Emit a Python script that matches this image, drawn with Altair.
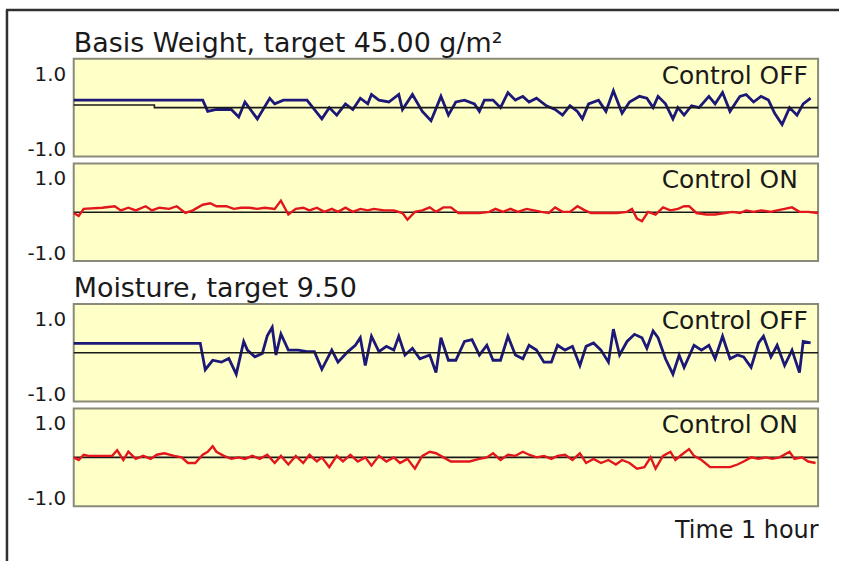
import altair as alt
import pandas as pd

# ---------------- data: time in minutes, deviation from target ----------------
bw_off_t = [0, 10.4, 10.8, 11.5, 12.7, 13.3, 13.8, 14.8, 15.8, 16.2,
            16.9, 18.8, 20.0, 20.6, 21.2, 21.9, 22.5, 23.1, 23.7, 24.0,
            24.6, 25.4, 26.2, 26.5, 27.3, 28.1, 28.8, 29.6, 30.2, 30.8,
            31.5, 32.3, 32.7, 33.1, 33.8, 34.4, 35.0, 35.6, 36.2, 36.7,
            37.3, 38.1, 38.8, 39.4, 40.0, 40.6, 41.0, 41.5, 42.3, 42.9,
            43.5, 44.2, 44.8, 45.6, 46.2, 46.7, 47.1, 47.7, 48.3, 48.7,
            49.2, 49.8, 50.4, 51.2, 51.7, 52.3, 52.9, 53.7, 54.2, 54.8,
            55.4, 56.0, 56.5, 57.1, 57.7, 58.3, 58.8, 59.4]
bw_off_v = [0.2, 0.2, -0.1, -0.05, -0.05, -0.25, 0.15, -0.3, 0.25, 0.1,
            0.2, 0.2, -0.3, 0.0, -0.2, 0.1, -0.05, 0.25, 0.1, 0.35,
            0.2, 0.15, 0.35, -0.05, 0.35, -0.1, -0.35, 0.3, -0.2, 0.15,
            0.2, 0.1, -0.1, 0.2, 0.2, 0.0, 0.4, 0.2, 0.3, 0.15,
            0.25, 0.05, -0.05, -0.2, 0.05, -0.1, -0.3, 0.1, 0.2, -0.1,
            0.45, -0.15, 0.15, 0.3, 0.25, 0.0, 0.3, 0.1, -0.3, 0.0,
            -0.2, 0.05, 0.0, 0.3, 0.1, 0.4, -0.1, 0.3, 0.35, 0.15,
            0.3, 0.2, -0.15, -0.45, 0.0, -0.2, 0.1, 0.25]

bw_on_t = [0, 0.4, 0.8, 2.3, 3.3, 3.8, 4.4, 5.0, 5.8, 6.3,
           6.9, 7.7, 8.3, 9.0, 9.6, 10.4, 11.0, 11.5, 12.3, 12.9,
           13.5, 14.2, 14.8, 15.4, 16.2, 16.7, 17.3, 17.9, 18.5, 19.0,
           19.6, 20.2, 20.8, 21.3, 21.9, 22.5, 23.1, 23.7, 24.2, 25.0,
           25.8, 26.5, 26.9, 27.5, 28.1, 28.7, 29.2, 29.8, 30.4, 31.0,
           31.9, 32.7, 33.5, 34.0, 34.6, 35.2, 35.8, 36.5, 37.1, 37.7,
           38.3, 38.8, 39.4, 40.0, 40.6, 41.2, 41.7, 42.7, 43.8, 44.6,
           45.0, 45.4, 45.8, 46.3, 46.9, 47.5, 48.1, 48.7, 49.2, 49.6,
           50.2, 51.0, 51.7, 52.5, 53.1, 53.7, 54.2, 54.8, 55.4, 56.2,
           56.7, 57.3, 57.9, 58.5, 59.2, 60.0]
bw_on_v = [-0.02, -0.1, 0.09, 0.12, 0.16, 0.05, 0.12, 0.05, 0.16, 0.05,
           0.12, 0.09, 0.16, -0.02, 0.05, 0.2, 0.24, 0.16, 0.16, 0.09,
           0.12, 0.12, 0.09, 0.12, 0.09, 0.31, -0.06, 0.09, 0.12, 0.05,
           0.12, 0.01, 0.09, 0.01, 0.12, 0.01, 0.09, 0.05, 0.09, 0.05,
           0.05, -0.02, -0.2, 0.01, 0.05, 0.13, 0.01, 0.13, 0.13, -0.02,
           -0.02, -0.02, 0.01, 0.09, 0.01, 0.09, 0.01, 0.09, 0.05, 0.01,
           -0.02, 0.13, 0.01, 0.01, 0.16, 0.05, -0.02, -0.02, -0.02, 0.01,
           0.09, -0.17, -0.24, 0.01, -0.06, 0.13, 0.05, 0.09, 0.16, 0.16,
           -0.02, -0.06, -0.06, -0.02, 0.01, -0.02, 0.05, 0.01, 0.05, 0.01,
           0.05, 0.09, 0.13, 0.01, 0.01, -0.02]

mo_off_t = [0, 10.2, 10.6, 11.2, 11.9, 12.5, 13.1, 13.7, 14.0, 14.6,
            15.2, 15.6, 16.0, 16.3, 16.7, 17.3, 18.1, 18.8, 19.4, 20.0,
            20.8, 21.3, 22.1, 22.7, 23.1, 23.5, 24.0, 24.6, 25.2, 25.8,
            26.2, 26.7, 27.3, 27.9, 28.7, 29.2, 29.6, 30.2, 30.8, 31.5,
            32.1, 32.7, 33.3, 33.8, 34.4, 35.0, 35.6, 36.2, 36.7, 37.3,
            37.9, 38.5, 39.0, 39.6, 40.2, 40.8, 41.3, 41.9, 42.5, 43.1,
            43.5, 44.0, 44.6, 45.2, 45.8, 46.2, 46.7, 47.1, 47.7, 48.3,
            48.8, 49.2, 50.0, 50.6, 51.2, 51.7, 52.3, 52.9, 53.5, 54.0,
            54.6, 55.2, 55.6, 56.2, 56.7, 57.3, 57.9, 58.5, 58.8, 59.4]
mo_off_v = [0.25, 0.25, -0.45, -0.2, -0.25, -0.15, -0.57, 0.3, 0.07, -0.11,
            -0.02, 0.45, 0.68, -0.06, 0.5, 0.07, 0.07, 0.03, 0.03, -0.44,
            0.07, -0.25, 0.03, 0.2, 0.4, -0.34, 0.44, 0.03, 0.17, 0.07,
            0.44, -0.06, 0.12, -0.16, -0.06, -0.53, 0.4, -0.2, -0.2, 0.3,
            0.35, -0.06, 0.2, -0.2, -0.2, 0.44, -0.06, -0.16, 0.2, 0.07,
            -0.25, -0.25, 0.2, 0.07, 0.17, -0.34, 0.17, 0.26, 0.07, -0.25,
            0.63, -0.06, 0.3, 0.49, 0.4, 0.12, 0.58, 0.4, -0.16, -0.57,
            -0.06, -0.39, 0.2, 0.07, 0.2, -0.16, 0.44, -0.16, -0.06, -0.11,
            -0.39, 0.26, 0.44, -0.11, 0.2, -0.34, 0.07, -0.53, 0.3, 0.26]

mo_on_t = [0.0, 0.4, 0.8, 1.2, 3.1, 3.5, 4.0, 4.4, 5.0, 5.6,
           6.2, 6.7, 7.3, 8.1, 8.7, 9.2, 9.8, 10.4, 10.8, 11.2,
           11.5, 12.1, 12.7, 13.3, 13.8, 14.4, 15.0, 15.6, 16.2, 16.7,
           17.3, 17.9, 18.5, 19.0, 19.6, 20.0, 20.6, 21.2, 21.7, 22.3,
           22.9, 23.5, 24.0, 24.6, 25.2, 25.8, 26.3, 26.9, 27.5, 28.1,
           28.7, 29.2, 29.8, 30.4, 31.2, 31.9, 32.7, 33.3, 33.8, 34.4,
           35.0, 35.6, 36.2, 36.7, 37.3, 37.9, 38.5, 39.0, 39.6, 40.2,
           40.8, 41.3, 41.9, 42.5, 43.1, 43.7, 44.2, 44.8, 45.4, 46.0,
           46.5, 46.9, 47.5, 48.1, 48.5, 49.0, 49.6, 50.0, 50.6, 51.3,
           52.1, 52.9, 53.5, 54.0, 54.6, 55.2, 55.8, 56.3, 56.9, 57.7,
           58.1, 58.7, 59.2, 59.8]
mo_on_v = [0.0, -0.07, 0.07, 0.04, 0.04, 0.19, -0.07, 0.15, -0.04, 0.04,
           -0.04, 0.07, 0.11, 0.04, 0.0, -0.15, -0.15, 0.07, 0.15, 0.3,
           0.15, 0.04, -0.04, 0.0, -0.04, 0.04, -0.04, 0.07, -0.15, 0.04,
           -0.19, 0.04, -0.15, 0.07, -0.11, 0.0, -0.26, 0.04, -0.11, 0.07,
           -0.11, 0.0, -0.22, 0.04, -0.11, 0.0, -0.15, -0.04, -0.3, 0.04,
           0.15, 0.11, 0.0, -0.11, -0.11, -0.11, -0.04, 0.0, 0.11, -0.07,
           0.07, 0.04, 0.15, 0.07, 0.0, 0.04, -0.04, 0.04, 0.07, -0.07,
           0.11, -0.15, -0.04, -0.15, -0.07, -0.19, -0.07, -0.15, -0.3, -0.26,
           0.0, -0.3, 0.04, 0.15, -0.07, 0.07, 0.22, 0.04, -0.07, -0.26,
           -0.26, -0.26, -0.19, -0.11, 0.0, -0.04, 0.0, -0.04, 0.0, 0.15,
           -0.04, 0.0, -0.11, -0.15]

bw_target_t = [0, 6.5, 6.5, 60]
bw_target_v = [0.07, 0.07, 0.0, 0.0]
target_t = [0, 60]
target_v = [0.0, 0.0]

y_ticks = [-1.0, 1.0]
titles = ["Basis Weight, target 45.00 g/m\u00b2", "Moisture, target 9.50"]
mode_labels = ["Control OFF", "Control ON"]
x_title = "Time 1 hour"

# ---------------- styling ----------------
W, H = 747, 98
SPACER_H = 29
FONT = "DejaVu Sans"
BLUE = "#1c1878"
RED = "#e3161c"
INK = "#1a1a1a"
PANEL = alt.ViewBackground(fill="#ffffc8", stroke="#8a8a78", strokeWidth=2)

x_scale = alt.Scale(domain=[0, 60], nice=False, zero=False)
y_scale = alt.Scale(domain=[-1.3, 1.3], nice=False, zero=False)
y_axis = alt.Axis(values=y_ticks, title=None, ticks=False, domain=False, grid=False,
                  labelExpr="datum.value < 0 ? '-' + format(abs(datum.value), '.1f') : format(datum.value, '.1f')",
                  labelFontSize=20, labelFont=FONT, labelColor=INK, labelPadding=8,
                  labelOffset=4)


def frame(df_t, df_v):
    n = min(len(df_t), len(df_v))
    return pd.DataFrame({"t": df_t[:n], "v": df_v[:n]})


def panel(t, v, tt, tv, color, sw, label, title=None, last=False, off=True):
    if last:
        x_axis = alt.Axis(labels=False, ticks=False, domain=False, grid=False, title=x_title,
                          titleAnchor="end", titleFontSize=24, titleFont=FONT,
                          titleFontWeight="normal", titleColor=INK, titleBaseline="alphabetic",
                          titlePadding=31)
    else:
        x_axis = None
    x = alt.X("t:Q", scale=x_scale, axis=x_axis)
    y = alt.Y("v:Q", scale=y_scale, axis=y_axis)
    series = alt.Chart(frame(t, v)).mark_line(color=color, strokeWidth=sw).encode(x=x, y=y)
    target = alt.Chart(frame(tt, tv)).mark_line(color=INK, strokeWidth=1.6).encode(x=x, y=y)
    text = alt.Chart(pd.DataFrame({"label": [label]})).mark_text(
        align="left", baseline="alphabetic", fontSize=25, font=FONT, color=INK
    ).encode(x=alt.value(590), y=alt.value(25), text="label:N")
    layers = [series, target, text] if off else [target, series, text]
    ch = alt.layer(*layers).properties(width=W, height=H, view=PANEL)
    if title:
        ch = ch.properties(title=alt.TitleParams(text=title, anchor="start", frame="group",
                                                 fontSize=27, font=FONT, fontWeight="normal",
                                                 color=INK, offset=1))
    return ch


p1 = panel(bw_off_t, bw_off_v, bw_target_t, bw_target_v, BLUE, 2.8, mode_labels[0],
           title=titles[0], off=True)
p2 = panel(bw_on_t, bw_on_v, target_t, target_v, RED, 2.4, mode_labels[1], off=False)
p3 = panel(mo_off_t, mo_off_v, target_t, target_v, BLUE, 2.8, mode_labels[0],
           title=titles[1], off=True)
p4 = panel(mo_on_t, mo_on_v, target_t, target_v, RED, 2.4, mode_labels[1], last=True, off=False)

# spacer between the two groups; it also carries the outer picture frame (left and top edges)
one = pd.DataFrame({"k": [0]})
frame_left = alt.Chart(one).mark_rule(color="#303030", strokeWidth=2.5).encode(
    x=alt.value(-67), y=alt.value(-259), y2=alt.value(294))
frame_top = alt.Chart(one).mark_rule(color="#303030", strokeWidth=2.5).encode(
    x=alt.value(-68), x2=alt.value(768), y=alt.value(-259))
spacer = alt.layer(frame_left, frame_top).properties(
    width=W, height=SPACER_H,
    view=alt.ViewBackground(fill="transparent", stroke="transparent"))

chart = alt.vconcat(p1, p2, spacer, p3, p4, spacing=7, bounds="flush").properties(
    padding={"left": 4, "top": 7, "right": 0, "bottom": 0},
    background="white",
).configure(font=FONT)

chart.save("out.html", embed_options={"renderer": "svg", "actions": False})
